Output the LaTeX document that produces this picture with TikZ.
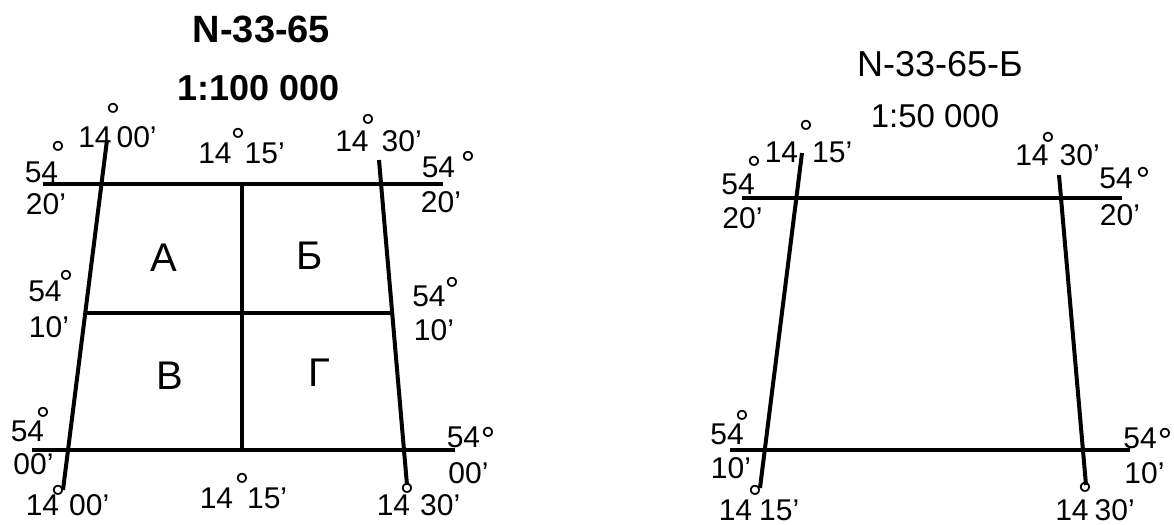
\documentclass[tikz,border=0pt]{standalone}
\usepackage{fontspec}
\setmainfont{Liberation Sans}

% degree sign boxed tightly round its ring
\newcommand{\degring}{\raisebox{-0.43em}[0.29em][0pt]{°}}

\tikzset{
  frameline/.style={line width=2pt},
  lbl/.style={font=\fontsize{15}{18}\selectfont,inner sep=0pt},
  dg/.style={font=\fontsize{18}{20}\selectfont,inner sep=0pt},
  cell/.style={font=\fontsize{20}{24}\selectfont,inner sep=0pt},
}

\begin{document}
\begin{tikzpicture}[x=0.5pt,y=-0.5pt]
\useasboundingbox (0,0) rectangle (1174,525);
% ---------- (left) sheet N-33-65 at 1:100 000 ----------
\begin{scope}
  \node[inner sep=0pt,font=\bfseries\fontsize{19}{22}\selectfont] (ttlL) at (261.5,29) {N-33-65};
  \node[inner sep=0pt,font=\bfseries\fontsize{18}{22}\selectfont] (scL) at (258.5,88.5) {1:100 000};
  % line ends
  \coordinate (mwT) at (107,140); \coordinate (mwB) at (63,490);
  \coordinate (meT) at (379,160); \coordinate (meB) at (407,485);
  \coordinate (mcT) at (242,184); \coordinate (mcB) at (242,450);
  \coordinate (pnW) at (43,184);  \coordinate (pnE) at (443,184);
  \coordinate (pmW) at (87,313);  \coordinate (pmE) at (392,313);
  \coordinate (psW) at (32,450);  \coordinate (psE) at (455,450);
  \draw[frameline] (mwT) -- (mwB);
  \draw[frameline] (meT) -- (meB);
  \draw[frameline] (mcT) -- (mcB);
  \draw[frameline] (pnW) -- (pnE);
  \draw[frameline] (pmW) -- (pmE);
  \draw[frameline] (psW) -- (psE);
  % quarter letters
  \node[cell] (qA) at (164,257.5) {А};
  \node[cell] (qB) at (310,255.5) {Б};
  \node[cell] (qV) at (170,376) {В};
  \node[cell] (qG) at (319,373) {Г};
  % meridian labels: name/x/y/gap/minutes/degree x/degree y
  \foreach \n/\x/\y/\g/\m/\dx/\dy in {
      a/117.5/137/2.5pt/00'/113/108, b/241.5/153.5/6.5pt/15'/238/133,
      c/378.5/141/6.5pt/30'/368/119, d/67.5/505/5pt/00'/58/490,
      e/243.5/498.5/7pt/15'/242/478, f/418.5/505.5/5pt/30'/407/488}{
    \node[lbl] (lonL\n) at (\x,\y) {14\hspace{\g}\m};
    \node[dg] (dlonL\n) at (\dx,\dy) {\degring};}
  % parallel labels: name/x/y/minutes/x/y/degree x/degree y
  \foreach \n/\x/\y/\m/\mx/\my/\dx/\dy in {
      a/41.5/172/20'/46/204.5/58/146, b/438.5/167/20'/441/202.5/468/156,
      c/45/291/10'/49/327.5/66/275,   d/429/296/10'/434/330/452/282,
      e/27.5/431/00'/33.5/464.5/43/412, f/463.5/437/00'/468.5/473.5/488/432}{
    \node[lbl] (latL\n) at (\x,\y) {54};
    \node[lbl] (minL\n) at (\mx,\my) {\m};
    \node[dg] (dlatL\n) at (\dx,\dy) {\degring};}
\end{scope}
% ---------- (right) sheet N-33-65-Б at 1:50 000 ----------
\begin{scope}
  \node[inner sep=0pt,font=\fontsize{18}{22}\selectfont] (ttlR) at (940,64.5) {N-33-65-Б};
  \node[inner sep=0pt,font=\fontsize{16.5}{20}\selectfont] (scR) at (935,116.5) {1:50 000};
  \coordinate (nwT) at (802,153);  \coordinate (nwB) at (760,488);
  \coordinate (neT) at (1059,175); \coordinate (neB) at (1086,485);
  \coordinate (qnW) at (742,198);  \coordinate (qnE) at (1122,198);
  \coordinate (qsW) at (730,450);  \coordinate (qsE) at (1130,450);
  \draw[frameline] (nwT) -- (nwB);
  \draw[frameline] (neT) -- (neB);
  \draw[frameline] (qnW) -- (qnE);
  \draw[frameline] (qsW) -- (qsE);
  \foreach \n/\x/\y/\g/\m/\dx/\dy in {
      a/808.5/152/7pt/15'/806/125, b/1057.5/155/5.5pt/30'/1048/137,
      c/759/510/3.5pt/15'/755/490, d/1095/510/3pt/30'/1085/487}{
    \node[lbl] (lonR\n) at (\x,\y) {14\hspace{\g}\m};
    \node[dg] (dlonR\n) at (\dx,\dy) {\degring};}
  \foreach \n/\x/\y/\m/\mx/\my/\dx/\dy in {
      a/738/184/20'/742.5/218.5/754/161, b/1116/178/20'/1120/215/1143/172,
      c/727/434/10'/731/468/742/415,     d/1140/438/10'/1144.5/473/1165/433}{
    \node[lbl] (latR\n) at (\x,\y) {54};
    \node[lbl] (minR\n) at (\mx,\my) {\m};
    \node[dg] (dlatR\n) at (\dx,\dy) {\degring};}
\end{scope}
\end{tikzpicture}
\end{document}
